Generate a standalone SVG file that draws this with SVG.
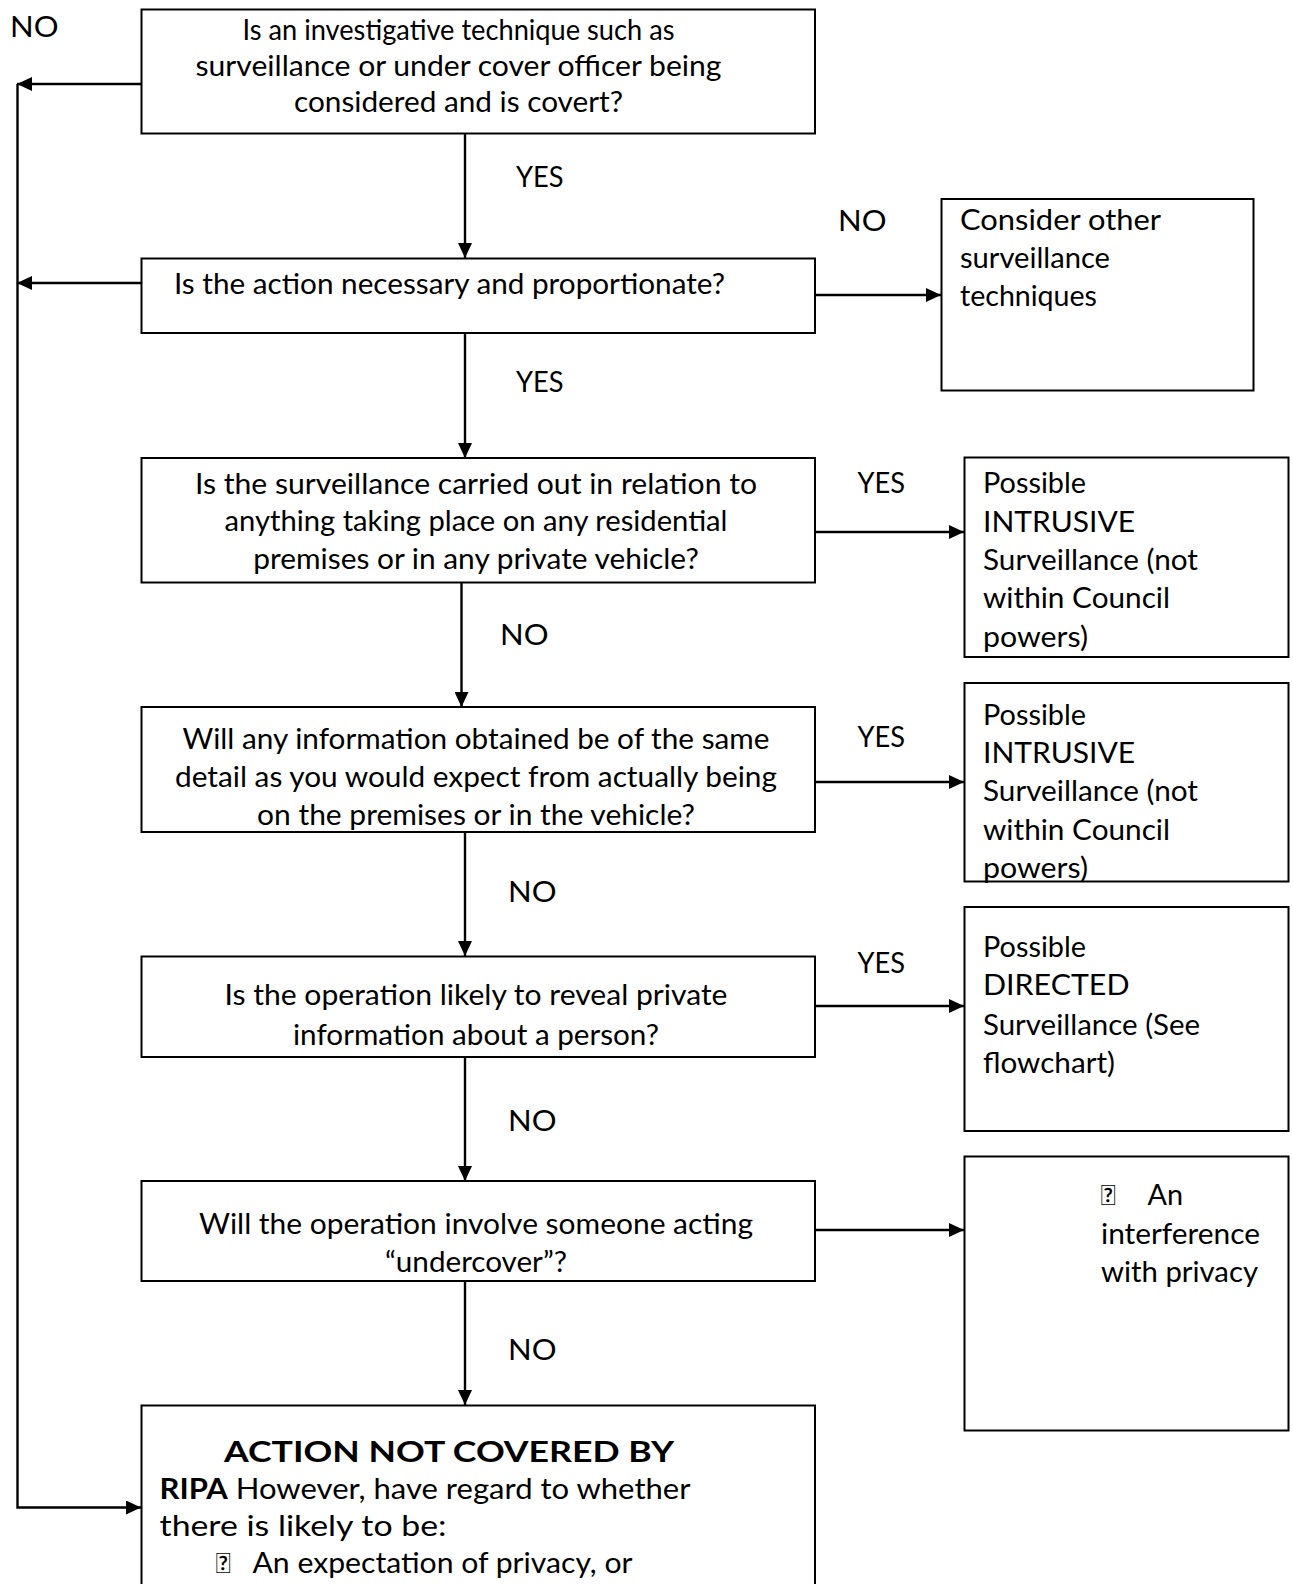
<svg xmlns="http://www.w3.org/2000/svg" width="1293" height="1584" viewBox="0 0 1293 1584">
<defs>
<style>
.box{fill:#fff;stroke:#000;stroke-width:2}
.t{font-family:Lato,"Liberation Sans",sans-serif;font-size:28px;fill:#000}
.c{text-anchor:middle}
.b{font-weight:bold}
.ln{fill:none;stroke:#000;stroke-width:2.4}
</style>
<marker id="ah" viewBox="0 0 15 14" refX="15" refY="7" markerWidth="15" markerHeight="14" markerUnits="userSpaceOnUse" orient="auto">
<path d="M0,0 L15,7 L0,14 z" fill="#000"/>
</marker>
</defs>
<rect width="1293" height="1584" fill="#fff"/>

<g id="connectors">
<path class="ln" d="M141,84 H17" marker-end="url(#ah)"/>
<path class="ln" d="M141,283 H17" marker-end="url(#ah)"/>
<path class="ln" d="M17.5,84 V1507.5 H141" marker-end="url(#ah)"/>
<path class="ln" d="M465,133 V258" marker-end="url(#ah)"/>
<path class="ln" d="M465,332 V458" marker-end="url(#ah)"/>
<path class="ln" d="M461.5,582 V707" marker-end="url(#ah)"/>
<path class="ln" d="M465,832 V956" marker-end="url(#ah)"/>
<path class="ln" d="M465,1057 V1181" marker-end="url(#ah)"/>
<path class="ln" d="M465,1281 V1405" marker-end="url(#ah)"/>
<path class="ln" d="M796,295 H941" marker-end="url(#ah)"/>
<path class="ln" d="M815,532 H964" marker-end="url(#ah)"/>
<path class="ln" d="M815,782 H964" marker-end="url(#ah)"/>
<path class="ln" d="M815,1006 H964" marker-end="url(#ah)"/>
<path class="ln" d="M815,1230 H964" marker-end="url(#ah)"/>
</g>

<g id="labels">
<text class="t" x="10" y="36.5" textLength="48.5" lengthAdjust="spacingAndGlyphs">NO</text>
<text class="t" x="516" y="186.5" textLength="47.5" lengthAdjust="spacingAndGlyphs">YES</text>
<text class="t" x="516" y="392" textLength="47.5" lengthAdjust="spacingAndGlyphs">YES</text>
<text class="t" x="838" y="231" textLength="48.5" lengthAdjust="spacingAndGlyphs">NO</text>
<text class="t" x="857.5" y="493" textLength="47.5" lengthAdjust="spacingAndGlyphs">YES</text>
<text class="t" x="500" y="645" textLength="48.5" lengthAdjust="spacingAndGlyphs">NO</text>
<text class="t" x="857.5" y="747" textLength="47.5" lengthAdjust="spacingAndGlyphs">YES</text>
<text class="t" x="508" y="902" textLength="48.5" lengthAdjust="spacingAndGlyphs">NO</text>
<text class="t" x="857.5" y="973" textLength="47.5" lengthAdjust="spacingAndGlyphs">YES</text>
<text class="t" x="508" y="1131" textLength="48.5" lengthAdjust="spacingAndGlyphs">NO</text>
<text class="t" x="508" y="1360" textLength="48.5" lengthAdjust="spacingAndGlyphs">NO</text>
</g>

<g id="q1">
<rect class="box" x="141.5" y="9.5" width="673.5" height="124"/>
<text class="t c" x="458.5" y="39.5" textLength="432" lengthAdjust="spacingAndGlyphs">Is an investigative technique such as</text>
<text class="t c" x="458.5" y="75.5" textLength="526" lengthAdjust="spacingAndGlyphs">surveillance or under cover officer being</text>
<text class="t c" x="458.5" y="111.5" textLength="329" lengthAdjust="spacingAndGlyphs">considered and is covert?</text>
</g>

<g id="q2">
<rect class="box" x="141.5" y="258.5" width="673.5" height="74.5"/>
<text class="t" x="174" y="293.5" textLength="551" lengthAdjust="spacingAndGlyphs">Is the action necessary and proportionate?</text>
</g>

<g id="other">
<rect class="box" x="941.5" y="199" width="312" height="191.5"/>
<text class="t" x="960" y="229.5" textLength="201" lengthAdjust="spacingAndGlyphs">Consider other</text>
<text class="t" x="960" y="267.5" textLength="150" lengthAdjust="spacingAndGlyphs">surveillance</text>
<text class="t" x="960" y="306" textLength="137" lengthAdjust="spacingAndGlyphs">techniques</text>
</g>

<g id="q3">
<rect class="box" x="141.5" y="458" width="673.5" height="124.5"/>
<text class="t c" x="476" y="493.5" textLength="562" lengthAdjust="spacingAndGlyphs">Is the surveillance carried out in relation to</text>
<text class="t c" x="476" y="531" textLength="503" lengthAdjust="spacingAndGlyphs">anything taking place on any residential</text>
<text class="t c" x="476" y="568.5" textLength="445.5" lengthAdjust="spacingAndGlyphs">premises or in any private vehicle?</text>
</g>

<g id="intrusive1">
<rect class="box" x="964.5" y="457.5" width="324" height="199.5"/>
<text class="t" x="983" y="493" textLength="103" lengthAdjust="spacingAndGlyphs">Possible</text>
<text class="t" x="983" y="531.5" textLength="152" lengthAdjust="spacingAndGlyphs">INTRUSIVE</text>
<text class="t" x="983" y="570" textLength="215" lengthAdjust="spacingAndGlyphs">Surveillance (not</text>
<text class="t" x="983" y="608" textLength="187" lengthAdjust="spacingAndGlyphs">within Council</text>
<text class="t" x="983" y="646.5" textLength="105" lengthAdjust="spacingAndGlyphs">powers)</text>
</g>

<g id="q4">
<rect class="box" x="141.5" y="707" width="673.5" height="125"/>
<text class="t c" x="476" y="748.5" textLength="587" lengthAdjust="spacingAndGlyphs">Will any information obtained be of the same</text>
<text class="t c" x="476" y="787" textLength="602" lengthAdjust="spacingAndGlyphs">detail as you would expect from actually being</text>
<text class="t c" x="476" y="825" textLength="438" lengthAdjust="spacingAndGlyphs">on the premises or in the vehicle?</text>
</g>

<g id="intrusive2">
<rect class="box" x="964.5" y="683" width="324" height="198.5"/>
<text class="t" x="983" y="724.5" textLength="103" lengthAdjust="spacingAndGlyphs">Possible</text>
<text class="t" x="983" y="763" textLength="152" lengthAdjust="spacingAndGlyphs">INTRUSIVE</text>
<text class="t" x="983" y="801" textLength="215" lengthAdjust="spacingAndGlyphs">Surveillance (not</text>
<text class="t" x="983" y="839.5" textLength="187" lengthAdjust="spacingAndGlyphs">within Council</text>
<text class="t" x="983" y="878" textLength="105" lengthAdjust="spacingAndGlyphs">powers)</text>
</g>

<g id="q5">
<rect class="box" x="141.5" y="956.5" width="673.5" height="100.5"/>
<text class="t c" x="476" y="1005" textLength="503" lengthAdjust="spacingAndGlyphs">Is the operation likely to reveal private</text>
<text class="t c" x="476" y="1044.5" textLength="366" lengthAdjust="spacingAndGlyphs">information about a person?</text>
</g>

<g id="directed">
<rect class="box" x="964.5" y="907" width="324" height="224"/>
<text class="t" x="983" y="957" textLength="103" lengthAdjust="spacingAndGlyphs">Possible</text>
<text class="t" x="983" y="995" textLength="146.5" lengthAdjust="spacingAndGlyphs">DIRECTED</text>
<text class="t" x="983" y="1034.5" textLength="217" lengthAdjust="spacingAndGlyphs">Surveillance (See</text>
<text class="t" x="983" y="1073" textLength="132" lengthAdjust="spacingAndGlyphs">flowchart)</text>
</g>

<g id="q6">
<rect class="box" x="141.5" y="1181" width="673.5" height="100"/>
<text class="t c" x="476" y="1233.5" textLength="554" lengthAdjust="spacingAndGlyphs">Will the operation involve someone acting</text>
<text class="t c" x="476" y="1272" textLength="182" lengthAdjust="spacingAndGlyphs">“undercover”?</text>
</g>

<g id="interference">
<rect class="box" x="964.5" y="1156.5" width="324" height="274"/>
<text class="t" x="1101" y="1205">&#xF0B7;</text>
<text class="t" x="1147.5" y="1205" textLength="35.5" lengthAdjust="spacingAndGlyphs">An</text>
<text class="t" x="1101" y="1243.5" textLength="159" lengthAdjust="spacingAndGlyphs">interference</text>
<text class="t" x="1101" y="1282" textLength="157" lengthAdjust="spacingAndGlyphs">with privacy</text>
</g>

<g id="result">
<rect class="box" x="141.5" y="1405.5" width="673.5" height="200"/>
<text class="t c b" x="449" y="1461.5" textLength="450" lengthAdjust="spacingAndGlyphs">ACTION NOT COVERED BY</text>
<text class="t" x="159.5" y="1498.5" textLength="531" lengthAdjust="spacingAndGlyphs"><tspan class="b">RIPA</tspan> However, have regard to whether</text>
<text class="t" x="159.5" y="1535.5" textLength="287" lengthAdjust="spacingAndGlyphs">there is likely to be:</text>
<text class="t" x="216" y="1573">&#xF0B7;</text>
<text class="t" x="252.5" y="1573" textLength="380" lengthAdjust="spacingAndGlyphs">An expectation of privacy, or</text>
</g>
</svg>
